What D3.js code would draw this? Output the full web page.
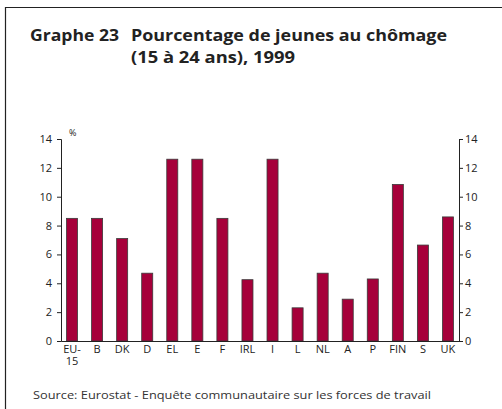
<!DOCTYPE html>
<html>
<head>
<meta charset="utf-8">
<script src="https://cdn.jsdelivr.net/npm/d3@7"></script>
<style>
  body { margin: 0; background: #fff; }
  svg { display: block; font-family: 'Open Sans', 'DejaVu Sans', sans-serif; }
  .eje text { font-size: 11px; fill: #222; font-family: 'Open Sans', sans-serif; }
  .eje path, .eje line { stroke: #222; }
</style>
</head>
<body>
<div id="graf"></div>
<script>
// Datos del grafico
pays    = ['EU-15', 'B', 'DK', 'D', 'EL', 'E', 'F', 'IRL', 'I', 'L', 'NL', 'A', 'P', 'FIN', 'S', 'UK']
valeurs = [8.5, 8.5, 7.1, 4.7, 12.6, 12.6, 8.5, 4.25, 12.6, 2.3, 4.7, 2.9, 4.3, 10.85, 6.65, 8.6]
ticksY  = [0, 2, 4, 6, 8, 10, 12, 14]

ancho_total = 502
alto_total  = 409
margen = { superior: 139, izquierdo: 61, derecho: 43, inferior: 68 }
ancho = ancho_total - margen.izquierdo - margen.derecho
alto  = alto_total - margen.superior - margen.inferior

svg = d3.select('#graf').append('svg')
        .attr('width', ancho_total)
        .attr('height', alto_total)

// cadre (haut et gauche)
svg.append('path')
   .attr('d', `M5.5,${alto_total} L5.5,7.5 L${ancho_total},7.5`)
   .attr('fill', 'none')
   .attr('stroke', '#222')
   .attr('stroke-width', 1.2)

// titre
titulo = svg.append('text')
            .attr('font-weight', 'bold')
            .attr('font-size', '15.5px')
            .attr('fill', '#222')
titulo.append('tspan').attr('x', 30).attr('y', 41).attr('textLength', 89).attr('lengthAdjust', 'spacingAndGlyphs').text('Graphe 23')
titulo.append('tspan').attr('x', 131).attr('y', 41).attr('textLength', 316).attr('lengthAdjust', 'spacingAndGlyphs').text('Pourcentage de jeunes au chômage')
titulo.append('tspan').attr('x', 131).attr('y', 63).attr('textLength', 164).attr('lengthAdjust', 'spacingAndGlyphs').text('(15 à 24 ans), 1999')

g = svg.append('g')
       .attr('transform', `translate(${ margen.izquierdo }, ${ margen.superior })`)

x = d3.scaleBand()
      .domain(pays)
      .range([0, ancho])
      .paddingInner(0.56)
      .paddingOuter(0.22)

y = d3.scaleLinear()
      .domain([0, 14])
      .range([alto, 0])

// barres
g.selectAll('rect.barre')
 .data(pays)
 .enter()
 .append('rect')
 .attr('class', 'barre')
 .attr('x', d => x(d))
 .attr('y', (d, i) => y(valeurs[i]))
 .attr('width', x.bandwidth())
 .attr('height', (d, i) => y(0) - y(valeurs[i]))
 .attr('fill', '#a6003a')
 .attr('stroke', '#3a3a3a')
 .attr('stroke-width', 0.8)

// axes Y
g.append('g')
 .attr('class', 'eje')
 .call(d3.axisLeft(y).tickValues(ticksY).tickSize(4).tickPadding(5))

g.append('g')
 .attr('class', 'eje')
 .attr('transform', `translate(${ ancho }, 0)`)
 .call(d3.axisRight(y).tickValues(ticksY).tickSize(4).tickPadding(2))

// axe X
xAxisGroup = g.append('g')
  .attr('class', 'eje')
  .attr('transform', `translate(0, ${ alto })`)
  .call(d3.axisBottom(x).tickSize(0).tickPadding(4).tickSizeOuter(0))

xAxisGroup.selectAll('.tick text')
  .attr('font-size', '10.5px')
  .each(function(d) {
    if (d === 'EU-15') {
      t = d3.select(this).text('')
      t.append('tspan').attr('x', 0).text('EU-')
      t.append('tspan').attr('x', 0).attr('dy', '1.1em').text('15')
    }
  })

// unité
g.append('text')
 .attr('x', 8)
 .attr('y', -3)
 .attr('font-size', '9px')
 .attr('fill', '#222')
 .text('%')

// source
svg.append('text')
   .attr('x', 33)
   .attr('y', 399)
   .attr('font-size', '11.5px')
   .attr('fill', '#333')
   .attr('textLength', 398)
   .attr('lengthAdjust', 'spacingAndGlyphs')
   .text('Source: Eurostat - Enquête communautaire sur les forces de travail')
</script>
</body>
</html>
